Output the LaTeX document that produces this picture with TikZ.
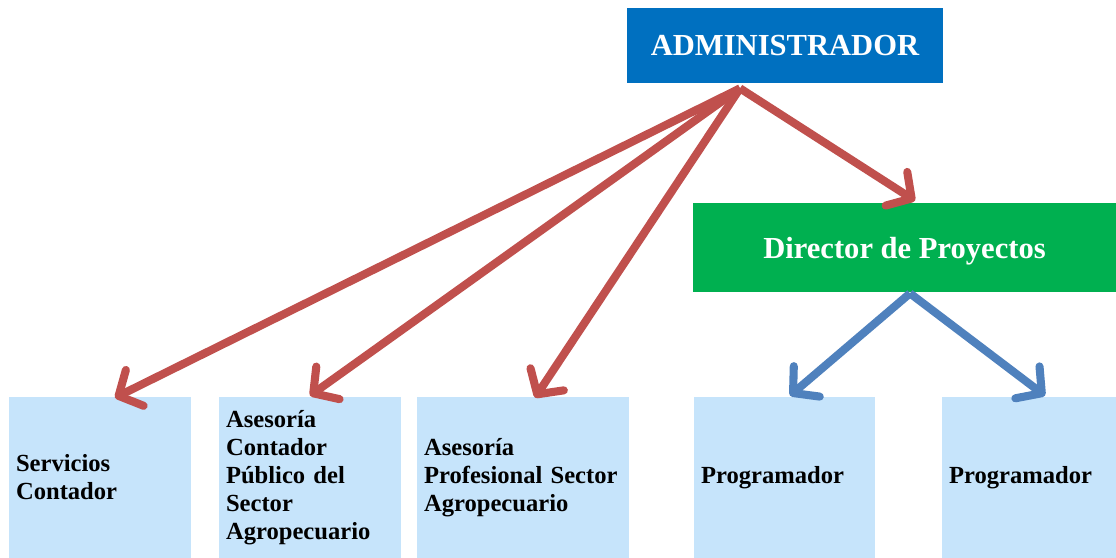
\documentclass[tikz,border=0pt]{standalone}
\usepackage{fontspec}
\setmainfont{Liberation Serif}
\usetikzlibrary{positioning,arrows.meta,calc}
\definecolor{adminblue}{HTML}{0070C0}
\definecolor{dirgreen}{HTML}{00B050}
\definecolor{cellblue}{HTML}{C6E4FB}
\definecolor{arrowred}{HTML}{C0504D}
\definecolor{arrowblue}{HTML}{4F81BD}

\begin{document}
\begin{tikzpicture}[x=0.02cm, y=-0.02cm, head/.style={draw=none, font=\bfseries\fontsize{17.4}{20}\selectfont, text=white, align=center}, cell/.style={fill=cellblue, font=\bfseries\fontsize{14}{15.9}\selectfont, align=left, inner xsep=0.14cm, minimum height=3.22cm}, redarrow/.style={-{Straight Barb[length=3.6mm, width=8mm, round]}, line width=4.6pt, arrowred}, bluearrow/.style={-{Straight Barb[length=3.6mm, width=8mm, round]}, line width=4.6pt, arrowblue}]
        \useasboundingbox (0,0) rectangle (1116,558);
        \node[head, fill=adminblue, minimum width=6.32cm, minimum height=1.5cm] (admin) at (785,45.5) {ADMINISTRADOR};
        \node[head, fill=dirgreen, minimum width=8.46cm, minimum height=1.78cm, text depth=0pt] (dir) at (904.5,247.5) {Director de Proyectos};
        \node[cell, minimum width=3.64cm, text width=3.36cm] (cont) at (100,477.5) {Servicios\\Contador};
        \node[cell, minimum width=3.64cm, text width=3.36cm] (ascont) at (310,477.5) {Asesoría\\Contador\\Público del\\Sector\\Agropecuario};
        \node[cell, minimum width=4.24cm, text width=3.96cm] (asprof) at (523,477.5) {Asesoría\\Profesional Sector\\Agropecuario};
        \node[cell, minimum width=3.62cm, text width=3.34cm] (prog1) at (784.5,477.5) {Programador};
        \node[cell, minimum width=3.48cm, text width=3.2cm] (prog2) at (1029,477.5) {Programador};
        \coordinate (fork) at ([xshift=-0.9cm, yshift=-0.1cm]admin.south);
        \coordinate (split) at ([xshift=0.11cm, yshift=-0.02cm]dir.south);
        \draw[redarrow] (fork) -- ([xshift=0.3cm, yshift=-0.02cm]cont.north);
        \draw[redarrow] (fork) -- ([yshift=0.02cm]ascont.north);
        \draw[redarrow] (fork) -- ([xshift=0.24cm, yshift=-0.02cm]asprof.north);
        \draw[redarrow] (fork) -- ([xshift=0.21cm, yshift=0.04cm]dir.north);
        \draw[bluearrow] (split) -- ([xshift=0.11cm, yshift=0.02cm]prog1.north);
        \draw[bluearrow] (split) -- ([xshift=0.32cm, yshift=0.02cm]prog2.north);
    \end{tikzpicture}
\end{document}
